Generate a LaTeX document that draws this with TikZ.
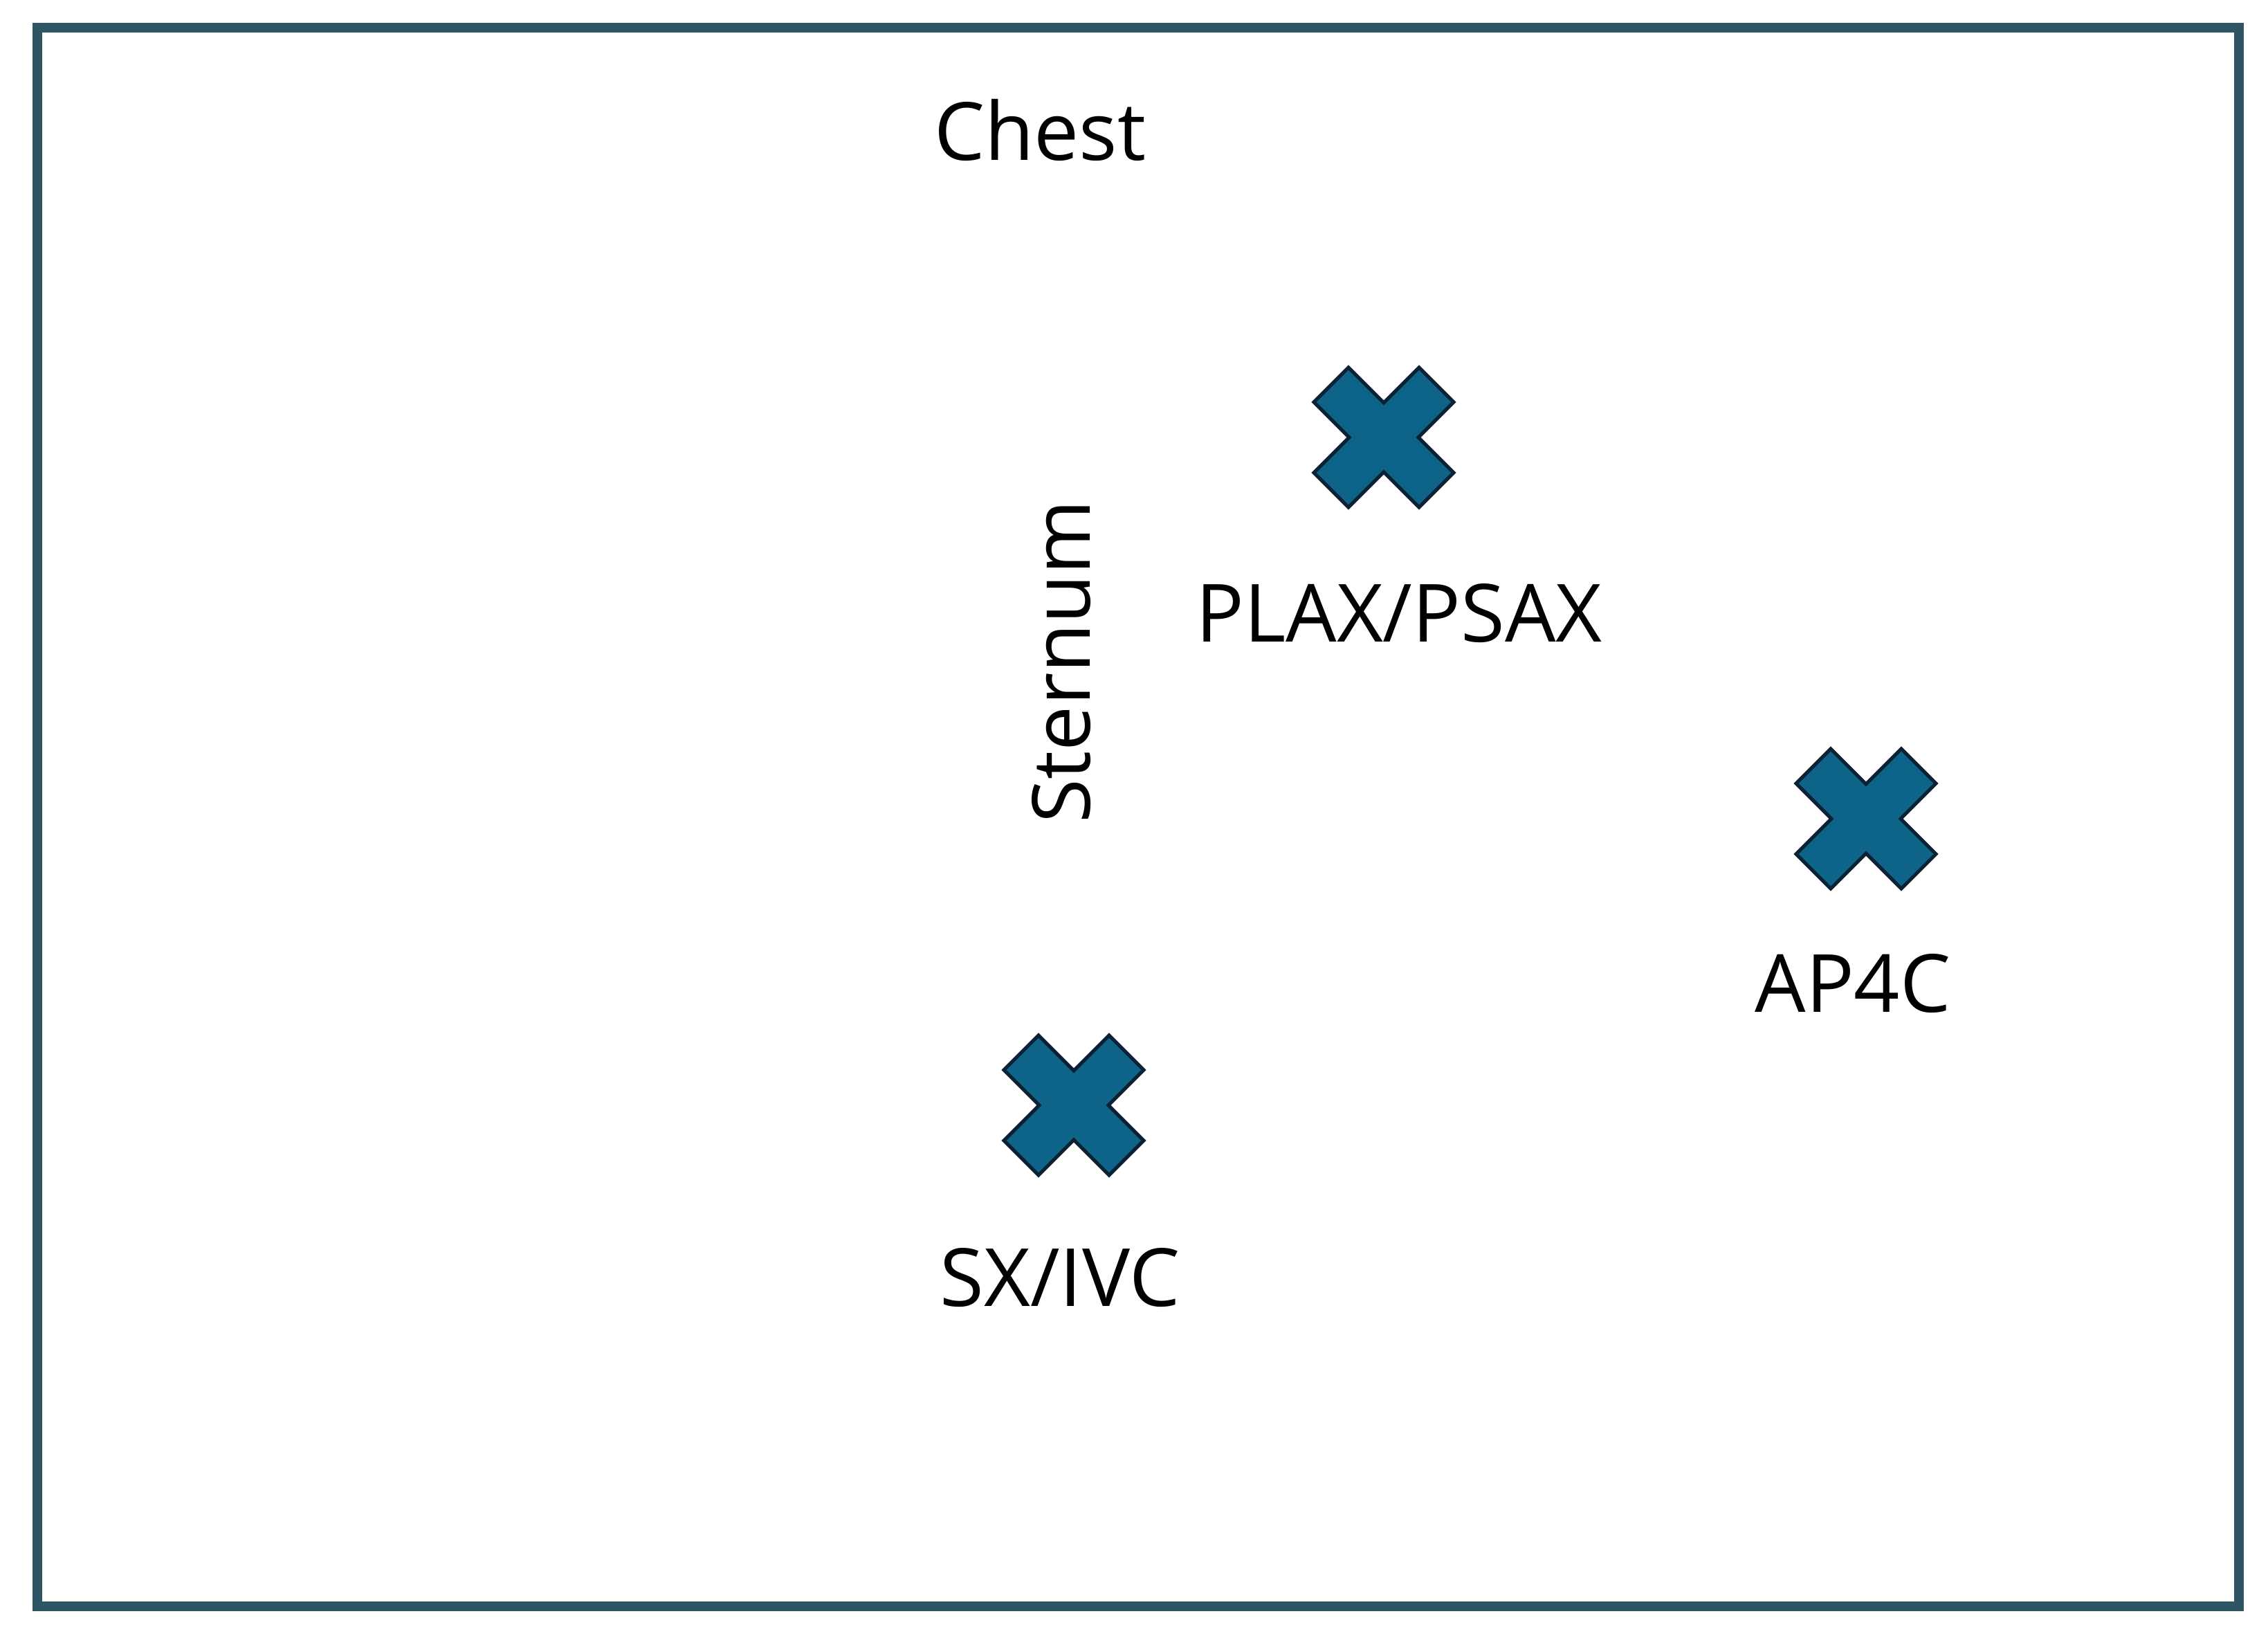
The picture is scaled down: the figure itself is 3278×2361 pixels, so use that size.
\documentclass[tikz,border=0pt]{standalone}
\usepackage{fontspec}
\setmainfont{Open Sans}
\usepackage{tikz}
\definecolor{framecol}{HTML}{2D5564}
\definecolor{markfill}{HTML}{0E6389}
\definecolor{markline}{HTML}{0A2233}

\begin{document}
\begin{tikzpicture}[
    x=0.01cm, y=-0.01cm,
    lbl/.style={font=\fontsize{33}{40}\selectfont, text=black, inner sep=0pt, anchor=base},
    xmark/.pic={
        \filldraw [fill=markfill, draw=markline, line width=0.05cm, line join=miter]
            (0,-50) -- (51,-101) -- (101,-51) -- (50,0) -- (101,51) -- (51,101) -- (0,50)
            -- (-51,101) -- (-101,51) -- (-50,0) -- (-101,-51) -- (-51,-101) -- cycle;
    }
]
    \useasboundingbox (0,0) rectangle (3278,2361);
    \draw [framecol, line width=0.14cm] (54,40) rectangle (3236,2321);

    % probe positions
    \coordinate (plax) at (2000,632);
    \coordinate (ap4c) at (2697,1183);
    \coordinate (sx) at (1552,1597);

    \pic at (plax) {xmark};
    \pic at (ap4c) {xmark};
    \pic at (sx) {xmark};

    \node [lbl] (chest) at (1503,232) {Chest};
    \node [lbl, rotate=90] (sternum) at (1575,956) {Sternum};
    \node [lbl] (plaxlbl) at (2022,927) {PLAX/PSAX};
    \node [lbl] (ap4clbl) at (2678,1462) {AP4C};
    \node [lbl] (sxlbl) at (1532,1887) {SX/IVC};
\end{tikzpicture}
\end{document}
